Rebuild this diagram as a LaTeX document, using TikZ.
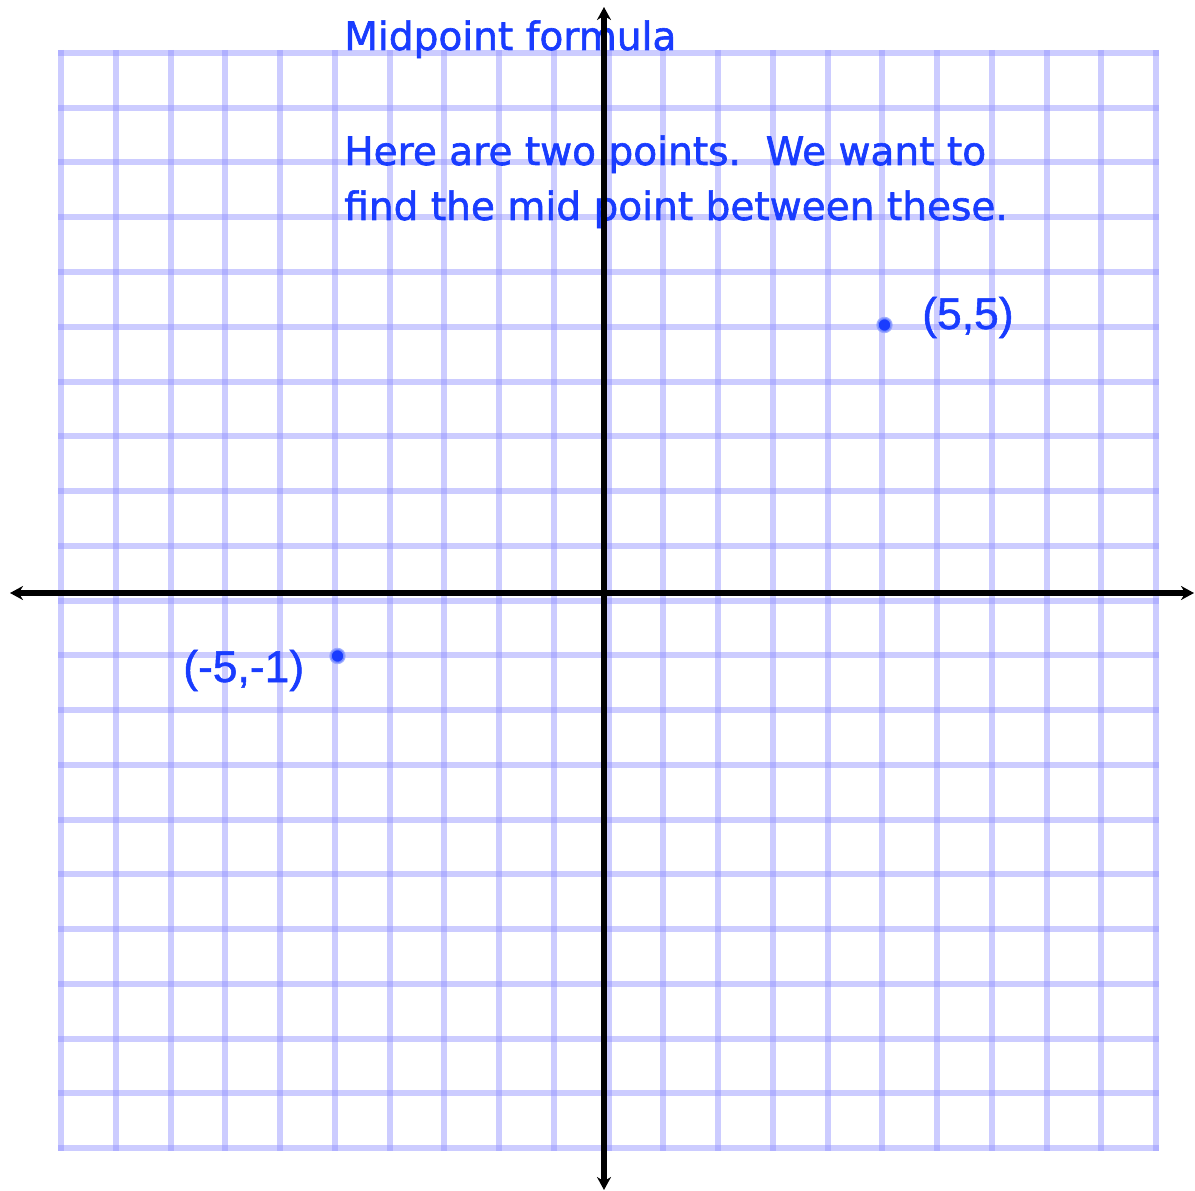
\documentclass[tikz,border=0pt]{standalone}
\usepackage{fontspec}
\setmainfont{DejaVu Sans}
\newfontfamily\comicfont{DejaVu Sans}[FakeBold=1.6]
\newfontfamily\labelfont{Liberation Sans}[FakeBold=1.2]
\usetikzlibrary{arrows.meta}
\definecolor{ink}{RGB}{25,60,255}
\definecolor{gridc}{RGB}{142,142,255}
\begin{document}
\begin{tikzpicture}[x=0.75pt,y=-0.75pt,
  gridline/.style={draw=gridc, draw opacity=0.45, line width=4.5pt},
  axis/.style={line width=4.1pt, black, {Stealth[length=9.75pt,width=10.5pt]}-{Stealth[length=9.75pt,width=10.5pt]}},
  titletext/.style={anchor=base west, inner sep=0pt, text=ink, font=\comicfont\fontsize{29.3pt}{36pt}\selectfont},
  coordtext/.style={anchor=base west, inner sep=0pt, text=ink, font=\labelfont\fontsize{33.3pt}{38pt}\selectfont},
  dot/.style={circle, fill=ink, inner sep=0pt, minimum size=10.5pt, draw=ink!50, draw opacity=0.8, line width=1.8pt}
]
\useasboundingbox (0,0) rectangle (1195,1191);
% grid
\foreach \i in {0,...,20} {
  \draw[gridline] ({61+54.75*\i},50) -- ({61+54.75*\i},1151);
  \draw[gridline] (58,{53+54.75*\i}) -- (1159,{53+54.75*\i});
}
% texts
\node[titletext] (title) at (344,50) {Midpoint formula};
\node[titletext] (line1) at (344,165) {Here are two points.\ \ We want to};
\node[titletext] (line2) at (344,220) {find the mid point between these.};
% points
\node[dot] (pa) at (884.5,325) {};
\node[dot] (pb) at (337.5,656) {};
\node[coordtext] (la) at (922,329) {(5,5)};
\node[coordtext] (lb) at (183,682) {(-5,-1)};
% axes
\coordinate (xl) at (10,593);
\coordinate (xr) at (1194,593);
\coordinate (yt) at (604,7);
\coordinate (yb) at (604,1190);
\draw[axis] (xl) -- (xr);
\draw[axis] (yb) -- (yt);
\end{tikzpicture}
\end{document}
